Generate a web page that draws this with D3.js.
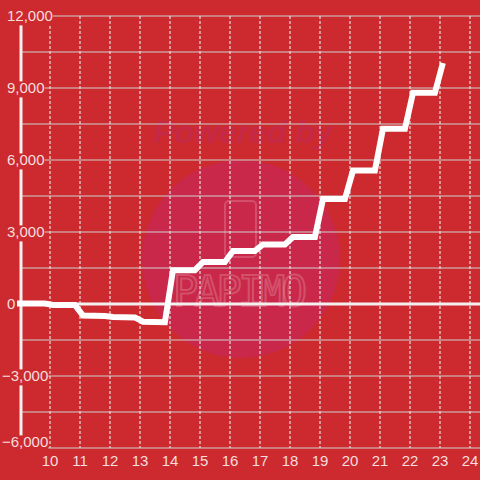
<!DOCTYPE html>
<html lang="en">
<head>
<meta charset="UTF-8">
<title>profit</title>
<script src="https://cdn.jsdelivr.net/npm/d3@7"></script>
<style>
  html, body { margin: 0; padding: 0; background: #cc2a2f; }
  svg { display: block; }
</style>
</head>
<body>
<svg id="svg"></svg>
<script>
    // chart data
    const hours = [9.0, 9.83, 10.1, 10.83, 11.1, 11.83, 12.1, 12.83, 13.1, 13.83,
                   14.1, 14.83, 15.1, 15.83, 16.1, 16.83, 17.1, 17.83, 18.1, 18.83,
                   19.1, 19.83, 20.1, 20.83, 21.1, 21.83, 22.1, 22.83, 23.07];
    const profit = [20, 20, -40, -40, -480, -500, -540, -560, -740, -760,
                    1410, 1410, 1750, 1750, 2210, 2210, 2480, 2480, 2790, 2790,
                    4370, 4370, 5560, 5560, 7300, 7300, 8800, 8800, 9920];
    const xTicks = [10, 11, 12, 13, 14, 15, 16, 17, 18, 19, 20, 21, 22, 23, 24];
    const yTicks = [-6000, -3000, 0, 3000, 6000, 9000, 12000];
    const yGrid = [-6000, -4500, -3000, -1500, 1500, 3000, 4500, 6000, 7500, 9000, 10500, 12000];

    const width = 480;
    const height = 480;
    const bg = '#cc2a2f';
    const textColor = '#f6dede';

    const x = d3.scaleLinear().domain([9, 24]).range([20, 470]);
    const y = d3.scaleLinear().domain([-6000, 12000]).range([448, 16]);

    const svg = d3.select('#svg')
        .attr('width', width)
        .attr('height', height)
        .style('font-family', '"Liberation Sans", Arial, sans-serif');

    svg.append('rect')
        .attr('width', width)
        .attr('height', height)
        .attr('fill', bg);

    // watermark
    const wm = svg.append('g');
    wm.append('circle')
        .attr('cx', 241).attr('cy', 259).attr('r', 99)
        .attr('fill', '#c9284a');
    wm.append('text')
        .attr('x', 243).attr('y', 143)
        .attr('text-anchor', 'middle')
        .attr('font-size', 32)
        .attr('font-weight', 'bold')
        .attr('font-style', 'italic')
        .attr('fill', '#c62945')
        .text('Powered by');
    wm.append('rect')
        .attr('x', 225).attr('y', 201).attr('width', 31).attr('height', 56)
        .attr('rx', 4)
        .attr('fill', 'none')
        .attr('stroke', 'rgba(255,255,255,0.18)')
        .attr('stroke-width', 2);
    wm.append('text')
        .attr('x', 240).attr('y', 306)
        .attr('text-anchor', 'middle')
        .attr('font-size', 42)
        .attr('font-family', '"DejaVu Sans Mono", monospace')
        .attr('textLength', 134)
        .attr('fill', 'none')
        .attr('stroke', 'rgba(255,255,255,0.2)')
        .attr('stroke-width', 2)
        .text('PAPIMO');

    // horizontal grid
    svg.append('g')
        .selectAll('line')
        .data(yGrid)
        .enter()
        .append('line')
        .attr('x1', 21).attr('x2', width)
        .attr('y1', d => y(d)).attr('y2', d => y(d))
        .attr('stroke', '#cfcfcf')
        .attr('stroke-width', 1.2);

    // vertical dashed grid
    svg.append('g')
        .selectAll('line')
        .data(xTicks)
        .enter()
        .append('line')
        .attr('x1', d => x(d)).attr('x2', d => x(d))
        .attr('y1', y(12000)).attr('y2', y(-6000))
        .attr('stroke', '#e8e0e0')
        .attr('stroke-width', 1.2)
        .attr('stroke-dasharray', '3,2');

    // zero line and y axis line
    svg.append('line')
        .attr('x1', 21).attr('x2', width)
        .attr('y1', y(0)).attr('y2', y(0))
        .attr('stroke', '#f4f0f0')
        .attr('stroke-width', 3);
    svg.append('line')
        .attr('x1', 21).attr('x2', 21)
        .attr('y1', y(12000)).attr('y2', y(-6000))
        .attr('stroke', '#f4f0f0')
        .attr('stroke-width', 3);

    // profit line
    const line = d3.line()
        .x((d, i) => x(hours[i]))
        .y(d => y(d));
    svg.append('path')
        .datum(profit)
        .attr('d', line)
        .attr('fill', 'none')
        .attr('stroke', '#ffffff')
        .attr('stroke-width', 6)
        .attr('stroke-linejoin', 'miter')
        .attr('stroke-linecap', 'square');

    // y labels with background
    const yl = svg.append('g')
        .selectAll('g')
        .data(yTicks)
        .enter()
        .append('g')
        .attr('transform', d => 'translate(0,' + Math.min(y(d), 442) + ')');
    yl.append('text')
        .attr('x', d => d < 0 ? 2 : 7)
        .attr('dy', '0.36em')
        .attr('font-size', 15)
        .attr('fill', textColor)
        .text(d => d3.format(',')(d))
        .each(function () {
            const b = this.getBBox();
            d3.select(this.parentNode).insert('rect', 'text')
                .attr('x', b.x).attr('y', b.y + 2)
                .attr('width', b.width).attr('height', b.height - 1)
                .attr('fill', bg);
        });

    // x labels
    svg.append('g')
        .selectAll('text')
        .data(xTicks)
        .enter()
        .append('text')
        .attr('x', d => x(d))
        .attr('y', 466)
        .attr('text-anchor', 'middle')
        .attr('font-size', 15)
        .attr('fill', textColor)
        .text(d => d);
</script>
</body>
</html>
